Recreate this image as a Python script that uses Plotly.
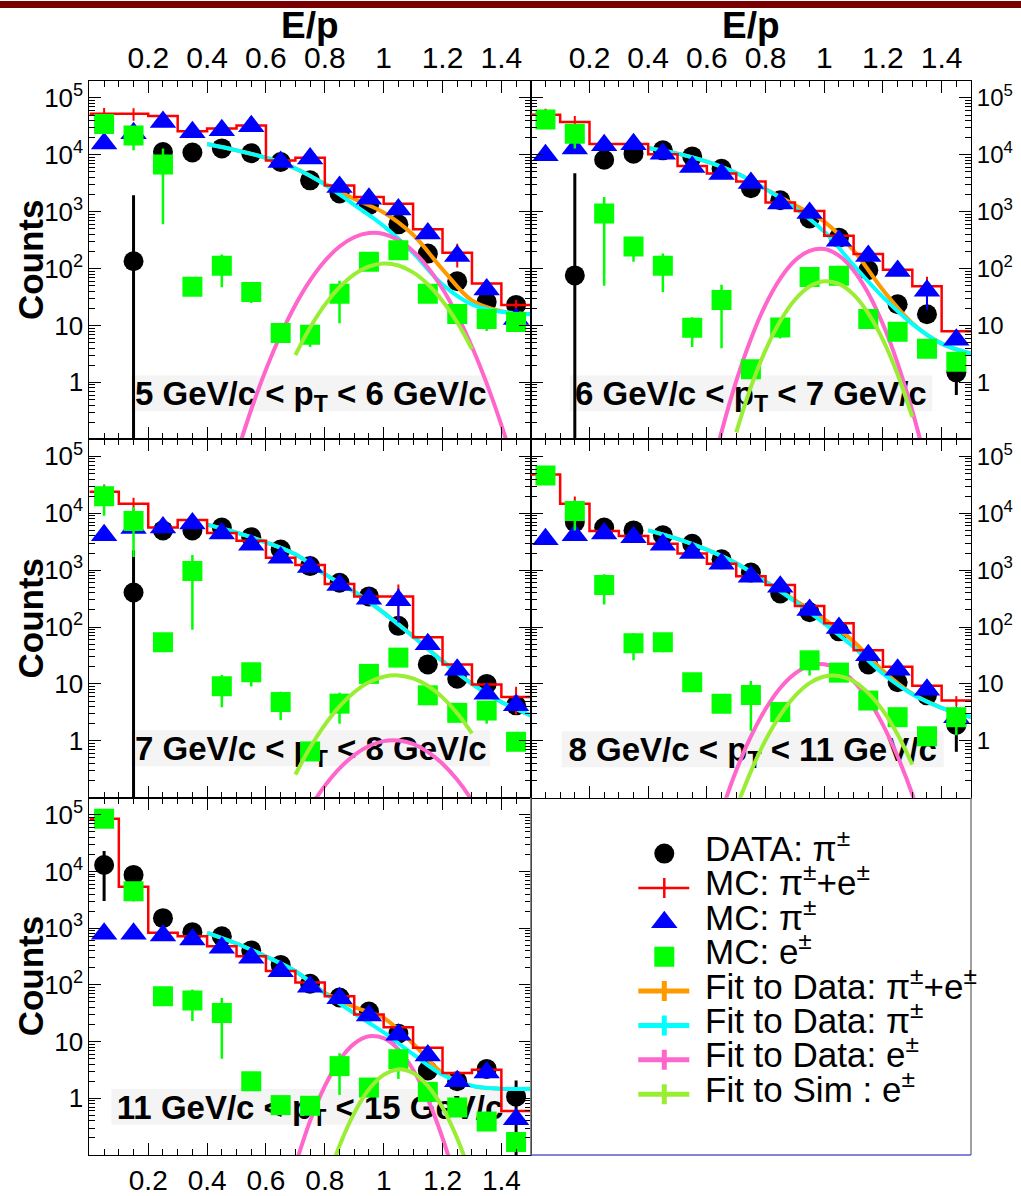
import plotly.graph_objects as go

W, H = 1021, 1196
FONT = "Liberation Sans, Arial, Helvetica, sans-serif"

# ---------------------------------------------------------------- binning
ep_centers = [0.05, 0.15, 0.25, 0.35, 0.45, 0.55, 0.65, 0.75,
              0.85, 0.95, 1.05, 1.15, 1.25, 1.35, 1.45]
ep_edges = [0.0, 0.1, 0.2, 0.3, 0.4, 0.5, 0.6, 0.7, 0.8,
            0.9, 1.0, 1.1, 1.2, 1.3, 1.4, 1.5]
fit_pi_x = [0.4, 0.5, 0.6, 0.7, 0.8, 0.9, 1.0, 1.1, 1.2, 1.3, 1.4, 1.5]
fit_sim_x = [0.70, 0.75, 0.80, 0.85, 0.90, 0.95, 1.00, 1.05,
             1.10, 1.15, 1.20, 1.25, 1.30]

x_tick_vals = [0.2, 0.4, 0.6, 0.8, 1.0, 1.2, 1.4]
x_tick_text = ["0.2", "0.4", "0.6", "0.8", "1", "1.2", "1.4"]
y_tick_vals = [1, 10, 100, 1000, 10000, 100000]
y_tick_text = ["1", "10", "10<sup>2</sup>", "10<sup>3</sup>",
               "10<sup>4</sup>", "10<sup>5</sup>"]

# ---------------------------------------------------------------- 5 < pT < 6
data_5_6 = [None, 135, 11200, 11000, 13000, 10700, 7500, 3570, 2090, 1300, 600, 184, 60, 26, 23]
data_err_5_6 = [0, 1820, 0, 0, 0, 0, 0, 0, 0, 0, 0, 0, 0, 0, 0]
mcpi_5_6 = [15800, 24000, 38000, 25000, 27000, 32000, 7500, 8600, 2730, 1700, 1090, 415, 166, 43, 13]
mcpi_err_5_6 = [0] * 15
mce_5_6 = [35000, 22000, 6800, 48, 112, 39, 7.4, 6.9, 36, 132, 210, 36, 16, 13, 11.5]
mce_err_5_6 = [0, 10000, 6200, 10, 65, 14, 0, 2.7, 25, 0, 0, 0, 0, 5, 0]
mcsum_5_6 = [53000, 53000, 48000, 26000, 29000, 33000, 8000, 8900, 2900, 1820, 1380, 490, 190, 55, 23]
mcsum_err_5_6 = [14000, 13000, 0, 0, 0, 0, 0, 0, 0, 0, 0, 0, 85, 0, 5]
fit_all_5_6 = [15500, 12000, 8900, 5780, 3100, 1680, 970, 393, 97, 27.6, 17.8, 15.9]
fit_pi_5_6 = [15500, 12000, 8900, 5750, 3020, 1320, 562, 190, 52.5, 23.4, 17.4, 15.8]
fit_e_x_5_6 = [0.50, 0.55, 0.60, 0.65, 0.70, 0.75, 0.80, 0.85, 0.90, 0.95,
               1.00, 1.05, 1.10, 1.15, 1.20, 1.25, 1.30, 1.35, 1.40, 1.45]
fit_e_5_6 = [0.054, 0.334, 1.68, 6.87, 22.9, 62, 136, 245, 356, 422,
             407, 319, 203, 105, 44.4, 15.2, 4.24, 0.96, 0.178, 0.027]
fit_sim_5_6 = [3.03, 9.2, 23.1, 47.2, 79.3, 109, 123, 113.5, 85.9, 53.2, 27.0, 11.3, 3.85]

# ---------------------------------------------------------------- 6 < pT < 7
data_6_7 = [None, 76, 8200, 10500, 12000, 9400, 5700, 2600, 1590, 760, 350, 94, 23.6, 15.8, 1.5]
data_err_6_7 = [0, 4700, 0, 0, 0, 0, 0, 0, 0, 0, 0, 0, 0, 0, 0.9]
mcpi_6_7 = [9800, 13000, 14700, 15300, 10500, 6100, 4600, 3200, 1390, 950, 310, 166, 91, 41, 5.6]
mcpi_err_6_7 = [0, 0, 0, 0, 0, 0, 0, 0, 0, 0, 0, 0, 0, 22, 0]
mce_6_7 = [42000, 23500, 930, 245, 112, 9.1, 28, 1.7, 9.2, 71, 75, 13, 7.8, 3.9, 2.3]
mce_err_6_7 = [0, 10600, 880, 113, 73, 4.9, 24, 0, 3.3, 0, 0, 0, 0, 0, 0]
mcsum_6_7 = [51000, 38000, 15500, 15500, 10300, 6400, 4700, 3400, 1450, 1030, 380, 180, 96, 49, 7.9]
mcsum_err_6_7 = [14000, 10000, 0, 0, 0, 0, 0, 0, 0, 0, 0, 0, 0, 23, 0]
fit_all_6_7 = [13200, 10500, 7600, 4800, 2520, 1310, 668, 208, 42, 11, 4.8, 3.2]
fit_pi_6_7 = [13200, 10500, 7600, 4800, 2500, 1175, 447, 115, 31.6, 10.7, 4.8, 3.2]
fit_e_x_6_7 = [0.60, 0.65, 0.70, 0.75, 0.80, 0.85, 0.90, 0.95,
               1.00, 1.05, 1.10, 1.15, 1.20, 1.25, 1.30, 1.35]
fit_e_6_7 = [0.0126, 0.135, 1.05, 5.8, 23.3, 67, 139, 206, 221, 169, 93, 37, 10.5, 2.16, 0.316, 0.034]
fit_sim_6_7 = [0.132, 0.83, 3.7, 12, 28.4, 48.5, 60, 53.8, 34.9, 16.4, 5.6, 1.38, 0.245]

# ---------------------------------------------------------------- 7 < pT < 8
data_7_8 = [None, 405, 5000, 5000, 5600, 3800, 2300, 1180, 600, 345, 105, 22, 12.3, 10, 4.2]
data_err_7_8 = [0, 1800, 0, 0, 0, 0, 0, 0, 0, 0, 0, 0, 0, 0, 0]
mcpi_7_8 = [4100, 5500, 5600, 6600, 4400, 2800, 1660, 1140, 550, 315, 297, 50, 17.8, 6.7, 4.2]
mcpi_err_7_8 = [0, 0, 0, 0, 0, 0, 0, 0, 0, 0, 177, 0, 0, 0, 0]
mce_7_8 = [20000, 7300, 54, 970, 9.1, 16, 4.8, 0.65, 4.5, 15, 29, 6.3, 3.1, 3.4, 0.96]
mce_err_7_8 = [11000, 5600, 0, 880, 5.2, 7, 2.5, 0, 2.5, 0, 0, 2, 0, 1.4, 0]
mcsum_7_8 = [24000, 14700, 5600, 7600, 4500, 3300, 1660, 1230, 570, 345, 345, 66, 22, 9.8, 5.9]
mcsum_err_7_8 = [8000, 4000, 0, 0, 0, 0, 0, 0, 0, 0, 215, 0, 0, 0, 3]
fit_all_7_8 = [6300, 4570, 3090, 1900, 850, 418, 179, 69, 25.4, 10.1, 4.8, 2.8]
fit_pi_7_8 = [6300, 4570, 3090, 1900, 850, 417, 178, 68, 25, 10, 4.8, 2.8]
fit_e_x_7_8 = [0.70, 0.75, 0.80, 0.85, 0.90, 0.95, 1.00,
               1.05, 1.10, 1.15, 1.20, 1.25, 1.30, 1.35]
fit_e_7_8 = [0.023, 0.067, 0.161, 0.327, 0.56, 0.81, 0.986, 1.01, 0.88, 0.64, 0.395, 0.206, 0.090, 0.033]
fit_sim_7_8 = [0.255, 0.76, 1.91, 4.04, 7.15, 10.7, 13.4, 14.1, 12.5, 9.3, 5.8, 3.05, 1.35]

# ---------------------------------------------------------------- 8 < pT < 11
data_8_11 = [None, 7000, 5600, 5000, 4100, 2900, 1550, 910, 390, 182, 84, 22, 10.7, 6.3, 1.9]
data_err_8_11 = [0, 0, 0, 0, 0, 0, 0, 0, 0, 0, 0, 0, 0, 0, 1.26]
mcpi_8_11 = [3500, 4100, 4400, 3800, 2800, 2000, 1300, 765, 510, 200, 96, 32, 17.8, 7.9, 2.6]
mcpi_err_8_11 = [0] * 15
mce_8_11 = [46000, 11000, 550, 52, 54, 10.7, 4.5, 6.4, 3.2, 26, 15.8, 5.1, 2.6, 1.2, 2.6]
mce_err_8_11 = [0, 6000, 300, 26, 18, 0, 0, 4.9, 0, 12, 0, 0, 0, 0, 1.35]
mcsum_8_11 = [48000, 14700, 4900, 4000, 2900, 1960, 1300, 780, 550, 235, 117, 39, 20, 9.3, 5.1]
mcsum_err_8_11 = [0, 5000, 0, 0, 0, 0, 0, 0, 0, 0, 0, 0, 0, 0, 1]
fit_all_8_11 = [5000, 3550, 2290, 1320, 634, 297, 137, 55.8, 17, 6.7, 3.8, 2.6]
fit_pi_8_11 = [5000, 3550, 2290, 1320, 630, 282, 115, 44.7, 15.1, 6.6, 3.8, 2.6]
fit_e_x_8_11 = [0.60, 0.65, 0.70, 0.75, 0.80, 0.85, 0.90, 0.95,
                1.00, 1.05, 1.10, 1.15, 1.20, 1.25, 1.30, 1.35]
fit_e_8_11 = [0.0085, 0.057, 0.30, 1.19, 3.63, 8.5, 15.2, 21, 22.1, 17.9, 11.1, 5.3, 1.91, 0.53, 0.115, 0.019]
fit_sim_8_11 = [0.065, 0.29, 1.03, 2.84, 6.1, 10.3, 13.5, 13.8, 11.1, 6.9, 3.4, 1.29, 0.38]

# ---------------------------------------------------------------- 11 < pT < 15
data_11_15 = [13000, 8700, 1500, 850, 720, 405, 225, 105, 60, 34, 13.8, 3.1, 2.0, 3.3, 1.07]
data_err_11_15 = [10000, 0, 0, 0, 0, 0, 0, 0, 0, 0, 0, 0, 0, 0, 1.0]
mcpi_11_15 = [800, 800, 740, 630, 450, 300, 174, 93, 58, 29, 13.2, 5.7, 2.0, 2.85, 0.43]
mcpi_err_11_15 = [0] * 15
mce_11_15 = [85000, 4500, 63, 53, 32, 2.0, 0.76, 0.74, 3.7, 1.55, 4.9, 1.3, 0.69, 0.39, 0.17]
mce_err_11_15 = [0, 1550, 0, 30, 27, 0, 0, 0, 2.55, 0, 2.7, 0, 0, 0, 0]
mcsum_11_15 = [85000, 5400, 830, 720, 480, 320, 176, 110, 63, 30, 18, 7.8, 2.8, 3.2, 0.6]
mcsum_err_11_15 = [0, 0, 0, 0, 0, 0, 0, 0, 0, 0, 0, 0, 0, 0.7, 0]
fit_all_11_15 = [830, 537, 316, 174, 72.6, 40.8, 26, 9.2, 2.8, 1.66, 1.48, 1.48]
fit_pi_11_15 = [830, 537, 316, 174, 71, 31.6, 14.5, 6.0, 2.6, 1.66, 1.48, 1.48]
fit_e_x_11_15 = [0.70, 0.75, 0.80, 0.85, 0.90, 0.95, 1.00, 1.05, 1.10, 1.15, 1.20, 1.25]
fit_e_11_15 = [0.066, 0.40, 1.64, 4.7, 9.2, 12.4, 11.5, 7.3, 3.2, 0.97, 0.20, 0.029]
fit_sim_x_11_15 = [0.80, 0.85, 0.90, 0.95, 1.00, 1.05, 1.10, 1.15, 1.20, 1.25, 1.30]
fit_sim_11_15 = [0.027, 0.146, 0.55, 1.44, 2.59, 3.24, 2.79, 1.66, 0.69, 0.196, 0.039]

pt_labels = ["5 GeV/c &lt; p<sub>T</sub> &lt; 6 GeV/c",
             "6 GeV/c &lt; p<sub>T</sub> &lt; 7 GeV/c",
             "7 GeV/c &lt; p<sub>T</sub> &lt; 8 GeV/c",
             "8 GeV/c &lt; p<sub>T</sub> &lt; 11 GeV/c",
             "11 GeV/c &lt; p<sub>T</sub> &lt; 15 GeV/c"]

legend_texts = ["DATA: π<sup>±</sup>",
                "MC: π<sup>±</sup>+e<sup>±</sup>",
                "MC: π<sup>±</sup>",
                "MC: e<sup>±</sup>",
                "Fit to Data: π<sup>±</sup>+e<sup>±</sup>",
                "Fit to Data: π<sup>±</sup>",
                "Fit to Data: e<sup>±</sup>",
                "Fit to Sim : e<sup>±</sup>"]

# ---------------------------------------------------------------- colours
C_DATA = "#000000"
C_SUM = "#ff0000"
C_PI = "#0000ff"
C_E = "#00ff00"
C_FIT_ALL = "#ff9900"
C_FIT_PI = "#00ffff"
C_FIT_E = "#ff66cc"
C_FIT_SIM = "#99ee33"

# ---------------------------------------------------------------- pad geometry (pixels)
COL_L = (89.4, 530.8)
COL_R = (530.8, 971.0)
ROW_T = (80.0, 439.0)
ROW_M = (439.0, 798.0)
ROW_B = (798.0, 1156.0)


def fx(p):
    return p / W


def fy(p):
    return 1 - p / H


panels = [
    dict(col=COL_L, row=ROW_T, yside="left", xlab="top", box=(0.095, 0.908, 0.078, 0.178),
         data=data_5_6, data_err=data_err_5_6, mcpi=mcpi_5_6, mcpi_err=mcpi_err_5_6,
         mce=mce_5_6, mce_err=mce_err_5_6, mcsum=mcsum_5_6, mcsum_err=mcsum_err_5_6,
         fit_all=fit_all_5_6, fit_pi=fit_pi_5_6, fit_e_x=fit_e_x_5_6, fit_e=fit_e_5_6,
         fit_sim_x=fit_sim_x, fit_sim=fit_sim_5_6),
    dict(col=COL_R, row=ROW_T, yside="right", xlab="top", box=(0.088, 0.912, 0.078, 0.178),
         data=data_6_7, data_err=data_err_6_7, mcpi=mcpi_6_7, mcpi_err=mcpi_err_6_7,
         mce=mce_6_7, mce_err=mce_err_6_7, mcsum=mcsum_6_7, mcsum_err=mcsum_err_6_7,
         fit_all=fit_all_6_7, fit_pi=fit_pi_6_7, fit_e_x=fit_e_x_6_7, fit_e=fit_e_6_7,
         fit_sim_x=fit_sim_x, fit_sim=fit_sim_6_7),
    dict(col=COL_L, row=ROW_M, yside="left", xlab=None, box=(0.095, 0.908, 0.088, 0.188),
         data=data_7_8, data_err=data_err_7_8, mcpi=mcpi_7_8, mcpi_err=mcpi_err_7_8,
         mce=mce_7_8, mce_err=mce_err_7_8, mcsum=mcsum_7_8, mcsum_err=mcsum_err_7_8,
         fit_all=fit_all_7_8, fit_pi=fit_pi_7_8, fit_e_x=fit_e_x_7_8, fit_e=fit_e_7_8,
         fit_sim_x=fit_sim_x, fit_sim=fit_sim_7_8),
    dict(col=COL_R, row=ROW_M, yside="right", xlab=None, box=(0.070, 0.938, 0.085, 0.185),
         data=data_8_11, data_err=data_err_8_11, mcpi=mcpi_8_11, mcpi_err=mcpi_err_8_11,
         mce=mce_8_11, mce_err=mce_err_8_11, mcsum=mcsum_8_11, mcsum_err=mcsum_err_8_11,
         fit_all=fit_all_8_11, fit_pi=fit_pi_8_11, fit_e_x=fit_e_x_8_11, fit_e=fit_e_8_11,
         fit_sim_x=fit_sim_x, fit_sim=fit_sim_8_11),
    dict(col=COL_L, row=ROW_B, yside="left", xlab="bottom", box=(0.050, 0.950, 0.085, 0.185),
         data=data_11_15, data_err=data_err_11_15, mcpi=mcpi_11_15, mcpi_err=mcpi_err_11_15,
         mce=mce_11_15, mce_err=mce_err_11_15, mcsum=mcsum_11_15, mcsum_err=mcsum_err_11_15,
         fit_all=fit_all_11_15, fit_pi=fit_pi_11_15, fit_e_x=fit_e_x_11_15, fit_e=fit_e_11_15,
         fit_sim_x=fit_sim_x_11_15, fit_sim=fit_sim_11_15),
]

# minor ticks of the logarithmic count axis (2..9 in every decade)
y_minor_vals = [m * 10 ** d for d in range(-1, 6) for m in range(2, 10) if m * 10 ** d <= 2e5]

fig = go.Figure()
layout_axes = {}
shapes = []
annotations = []


def err(arr, col, thick):
    return dict(type="data", array=arr, symmetric=True, visible=True,
                color=col, thickness=thick, width=0)


for k, p in enumerate(panels, start=1):
    sfx = "" if k == 1 else str(k)
    xa, ya = "x" + sfx, "y" + sfx
    # data with its fit functions
    fig.add_trace(go.Scatter(x=ep_centers, y=p["data"], mode="markers", xaxis=xa, yaxis=ya,
                             marker=dict(symbol="circle", size=20, color=C_DATA),
                             error_y=err(p["data_err"], C_DATA, 3)))
    fig.add_trace(go.Scatter(x=fit_pi_x, y=p["fit_all"], mode="lines", xaxis=xa, yaxis=ya,
                             line=dict(color=C_FIT_ALL, width=4, shape="spline")))
    fig.add_trace(go.Scatter(x=fit_pi_x, y=p["fit_pi"], mode="lines", xaxis=xa, yaxis=ya,
                             line=dict(color=C_FIT_PI, width=4, shape="spline")))
    fig.add_trace(go.Scatter(x=p["fit_e_x"], y=p["fit_e"], mode="lines", xaxis=xa, yaxis=ya,
                             line=dict(color=C_FIT_E, width=4, shape="spline")))
    # MC pi+e histogram
    fig.add_trace(go.Scatter(x=ep_edges, y=p["mcsum"] + p["mcsum"][-1:], mode="lines",
                             xaxis=xa, yaxis=ya, line=dict(color=C_SUM, width=2.5, shape="hv")))
    fig.add_trace(go.Scatter(x=ep_centers, y=p["mcsum"], mode="markers", xaxis=xa, yaxis=ya,
                             marker=dict(size=1, color="rgba(0,0,0,0)"),
                             error_y=err(p["mcsum_err"], C_SUM, 2)))
    # MC pi and MC e
    fig.add_trace(go.Scatter(x=ep_centers, y=p["mcpi"], mode="markers", xaxis=xa, yaxis=ya,
                             marker=dict(symbol="triangle-up", size=23, color=C_PI),
                             error_y=err(p["mcpi_err"], C_PI, 2)))
    fig.add_trace(go.Scatter(x=ep_centers, y=p["mce"], mode="markers", xaxis=xa, yaxis=ya,
                             marker=dict(symbol="square", size=20, color=C_E),
                             error_y=err(p["mce_err"], C_E, 2.5)))
    fig.add_trace(go.Scatter(x=p["fit_sim_x"], y=p["fit_sim"], mode="lines", xaxis=xa, yaxis=ya,
                             line=dict(color=C_FIT_SIM, width=4, shape="spline")))

    x_dom = [fx(p["col"][0]), fx(p["col"][1])]
    y_dom = [fy(p["row"][1]), fy(p["row"][0])]
    tick_common = dict(showline=True, linecolor="black", linewidth=1, mirror="ticks",
                       ticks="inside", ticklen=12, tickwidth=1, tickcolor="black",
                       showgrid=False, zeroline=False)
    xaxis = dict(domain=x_dom, range=[0, 1.5], anchor=ya, tickmode="array",
                 tickvals=x_tick_vals, ticktext=x_tick_text, tickangle=0,
                 minor=dict(dtick=0.05, tick0=0, ticks="inside", ticklen=6,
                            tickcolor="black", tickwidth=1, showgrid=False),
                 **tick_common)
    if p["xlab"] is None:
        xaxis["showticklabels"] = False
    else:
        xaxis["side"] = p["xlab"]
        xaxis["tickfont"] = dict(family=FONT, size=30 if p["xlab"] == "top" else 28,
                                 color="black")
    yaxis = dict(domain=y_dom, type="log", range=[-1, 5.30103], anchor=xa,
                 side=p["yside"], tickmode="array", tickvals=y_tick_vals,
                 ticktext=y_tick_text,
                 tickfont=dict(family=FONT, size=26 if p["yside"] == "left" else 24,
                               color="black"),
                 minor=dict(tickmode="array", tickvals=y_minor_vals, ticks="inside",
                            ticklen=6, tickcolor="black", tickwidth=1, showgrid=False),
                 **tick_common)
    layout_axes["xaxis" + sfx] = xaxis
    layout_axes["yaxis" + sfx] = yaxis

    # transverse-momentum label sitting underneath the points
    b = p["box"]
    shapes.append(dict(type="rect", xref=xa + " domain", yref=ya + " domain",
                       x0=b[0], x1=b[1], y0=b[2], y1=b[3], layer="below",
                       fillcolor="#f4f4f4", line=dict(width=0),
                       label=dict(text="<b>" + pt_labels[k - 1] + "</b>",
                                  font=dict(family=FONT, size=33, color="black"),
                                  textposition="middle center")))

# axis titles
for cx in (310, 751):
    annotations.append(dict(text="<b>E/p</b>", x=fx(cx), y=fy(25), xref="paper", yref="paper",
                            showarrow=False, xanchor="center", yanchor="middle",
                            font=dict(family=FONT, size=37, color="black")))
for cy in (259.5, 618.5, 977):
    annotations.append(dict(text="<b>Counts</b>", x=fx(30), y=fy(cy), xref="paper",
                            yref="paper", showarrow=False, textangle=-90,
                            xanchor="center", yanchor="middle",
                            font=dict(family=FONT, size=35, color="black")))

# ---------------------------------------------------------------- legend pad
LEG_X0, LEG_X1, LEG_Y0, LEG_Y1 = 530.8, 971.0, 798.0, 1156.0
layout_axes["xaxis6"] = dict(domain=[fx(LEG_X0), fx(LEG_X1)], range=[LEG_X0, LEG_X1],
                             visible=False, anchor="y6", fixedrange=True)
layout_axes["yaxis6"] = dict(domain=[fy(LEG_Y1), fy(LEG_Y0)], range=[LEG_Y1, LEG_Y0],
                             visible=False, anchor="x6", fixedrange=True)

shapes.append(dict(type="line", xref="paper", yref="paper", x0=fx(LEG_X0), x1=fx(LEG_X0),
                   y0=fy(LEG_Y0), y1=fy(LEG_Y1), line=dict(color="#808080", width=1.5)))
shapes.append(dict(type="line", xref="paper", yref="paper", x0=fx(LEG_X1), x1=fx(LEG_X1),
                   y0=fy(LEG_Y0), y1=fy(LEG_Y1), line=dict(color="#808080", width=1.5)))
shapes.append(dict(type="line", xref="paper", yref="paper", x0=fx(LEG_X0), x1=fx(LEG_X1),
                   y0=fy(LEG_Y1), y1=fy(LEG_Y1), line=dict(color="#5a5ad2", width=1.5)))

sym_x, line_x0, line_x1, text_x = 664.3, 638.3, 689.3, 702.7
row0, row_step = 854.0, 34.43
rows = [row0 + i * row_step for i in range(8)]

marker_keys = [(0, "circle", 20, C_DATA), (2, "triangle-up", 23, C_PI), (3, "square", 20, C_E)]
for i, sym, size, col in marker_keys:
    fig.add_trace(go.Scatter(x=[sym_x], y=[rows[i]], mode="markers", xaxis="x6", yaxis="y6",
                             marker=dict(symbol=sym, size=size, color=col)))

line_keys = [(1, C_SUM, 2.5), (4, C_FIT_ALL, 5), (5, C_FIT_PI, 5), (6, C_FIT_E, 5), (7, C_FIT_SIM, 5)]
for i, col, lw in line_keys:
    shapes.append(dict(type="line", xref="x6", yref="y6", x0=line_x0, x1=line_x1,
                       y0=rows[i], y1=rows[i], line=dict(color=col, width=lw)))
    shapes.append(dict(type="line", xref="x6", yref="y6", x0=sym_x, x1=sym_x,
                       y0=rows[i] - 10, y1=rows[i] + 10, line=dict(color=col, width=lw)))

for i, txt in enumerate(legend_texts):
    annotations.append(dict(text=txt, x=fx(text_x), y=fy(rows[i] - 7.5), xref="paper",
                            yref="paper", showarrow=False, xanchor="left", yanchor="middle",
                            font=dict(family=FONT, size=35, color="black")))

# dark band across the top of the page
shapes.append(dict(type="rect", xref="paper", yref="paper", x0=0, x1=1, y0=fy(7), y1=1,
                   fillcolor="#780000", line=dict(width=0), layer="above"))

fig.update_layout(width=W, height=H, autosize=False,
                  margin=dict(l=0, r=0, t=0, b=0, pad=0),
                  paper_bgcolor="white", plot_bgcolor="white",
                  showlegend=False, shapes=shapes, annotations=annotations,
                  font=dict(family=FONT, color="black"),
                  **layout_axes)

fig.write_html("out.html")
